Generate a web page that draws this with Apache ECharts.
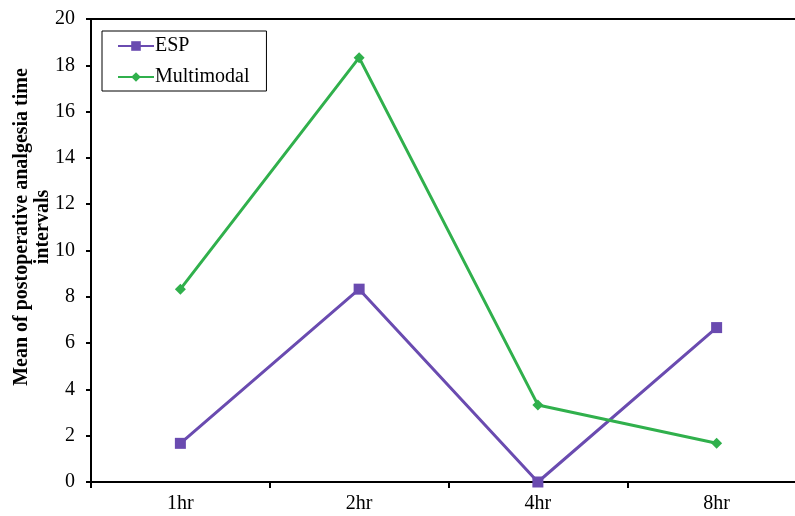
<!DOCTYPE html>
<html>
<head>
<meta charset="utf-8">
<script src="https://cdn.jsdelivr.net/npm/echarts@6/dist/echarts.min.js"></script>
<style>
  html, body { margin: 0; padding: 0; background: #fff; }
  #chart { width: 795px; height: 516px; }
</style>
</head>
<body>
<div id="chart"></div>
<script>
// Time points and mean values per group
const categories = ['1hr', '2hr', '4hr', '8hr'];
const espValues = [1.67, 8.33, 0, 6.67];
const multimodalValues = [8.33, 18.33, 3.33, 1.67];
const yTicks = [0, 2, 4, 6, 8, 10, 12, 14, 16, 18, 20];
const yTitleLines = ['Mean of postoperative analgesia time', 'intervals'];

const serif = '"Liberation Serif", "Times New Roman", serif';
const purple = '#6a4bb0';
const green = '#30b04c';

// Rotated y-axis title, one text element per line
const titleLineX = [22, 43];
const titleGraphics = yTitleLines.map((line, i) => ({
  type: 'text',
  x: titleLineX[i], y: 227,
  rotation: Math.PI / 2,
  style: {
    text: line,
    font: 'bold 20px "Liberation Serif", serif',
    fill: '#000',
    textAlign: 'center',
    textVerticalAlign: 'middle'
  }
}));

const chart = echarts.init(document.getElementById('chart'));
chart.setOption({
  animation: false,
  textStyle: { fontFamily: serif },
  grid: {
    left: 91, right: -11, top: 19, bottom: 34,
    outerBoundsMode: 'none',
    containLabel: false,
    show: true, borderColor: '#000', borderWidth: 2, backgroundColor: 'transparent'
  },
  graphic: titleGraphics,
  legend: {
    left: 102, top: 31,
    orient: 'vertical',
    borderColor: '#000', borderWidth: 1,
    padding: [5, 17, 4, 15],
    itemGap: 11,
    itemWidth: 36, itemHeight: 12,
    textStyle: { fontFamily: serif, fontSize: 20, color: '#000', padding: [0, 0, 0, -4] },
    data: ['ESP', 'Multimodal']
  },
  xAxis: {
    type: 'category',
    data: categories,
    boundaryGap: true,
    axisLine: { lineStyle: { color: '#000', width: 2 } },
    axisTick: { show: true, length: 6, lineStyle: { color: '#000', width: 2 } },
    axisLabel: { fontFamily: serif, fontSize: 20, color: '#000', margin: 12 }
  },
  yAxis: {
    type: 'value',
    min: yTicks[0], max: yTicks[yTicks.length - 1], interval: 2,
    splitLine: { show: false },
    axisLine: { show: true, lineStyle: { color: '#000', width: 2 } },
    axisTick: { show: true, length: 5, lineStyle: { color: '#000', width: 2 } },
    axisLabel: { fontFamily: serif, fontSize: 20, color: '#000', margin: 16 }
  },
  series: [
    {
      name: 'ESP', type: 'line', data: espValues,
      symbol: 'rect', symbolSize: 11,
      lineStyle: { color: purple, width: 3 },
      itemStyle: { color: purple }
    },
    {
      name: 'Multimodal', type: 'line', data: multimodalValues,
      symbol: 'diamond', symbolSize: 11,
      lineStyle: { color: green, width: 3 },
      itemStyle: { color: green }
    }
  ]
});
</script>
</body>
</html>
